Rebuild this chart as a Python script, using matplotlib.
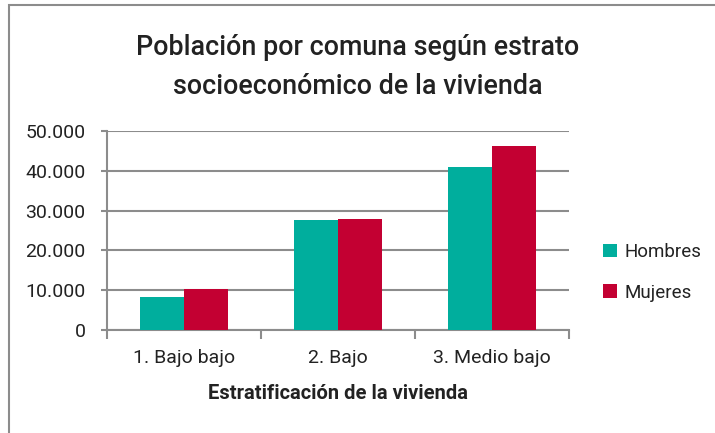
import numpy as np
import matplotlib.pyplot as plt
from matplotlib.patches import Rectangle

# data
categorias = ['1. Bajo bajo', '2. Bajo', '3. Medio bajo']
hombres = [8200, 27700, 40900]
mujeres = [10400, 27900, 46200]
series = ['Hombres', 'Mujeres']
y_ticks = [0, 10000, 20000, 30000, 40000, 50000]

plt.rcParams['font.family'] = ['Roboto', 'DejaVu Sans']
texto = '#222222'
gris = '#8c8c8c'

fig = plt.figure(figsize=(7.15, 4.33), dpi=100)
ax = fig.add_axes([0.1497, 0.2379, 0.6461, 0.4596])

# outer frame (only top and left visible in the reference)
fig.patches.append(Rectangle((9 / 715, -0.1), 1.2, (433 - 5) / 433 + 0.1,
                             transform=fig.transFigure, fill=False,
                             edgecolor=gris, linewidth=1.5))

x = np.arange(len(categorias))
ancho = 0.285
ax.bar(x - ancho / 2, hombres, ancho, color='#00ae9d', label=series[0], zorder=3)
ax.bar(x + ancho / 2, mujeres, ancho, color='#c30032', label=series[1], zorder=3)

ax.set_xlim(-0.5, len(categorias) - 0.5)
ax.set_ylim(0, 50000)
ax.set_yticks(y_ticks)
ax.set_yticklabels([f'{v:,}'.replace(',', '.') for v in y_ticks])
ax.set_xticks(np.arange(len(categorias) + 1) - 0.5, minor=False)
ax.set_xticklabels([])
ax.set_xticks(x, minor=True)
ax.set_xticklabels(categorias, minor=True)

ax.grid(axis='y', color=gris, linewidth=1.5, zorder=0)
for s in ['top', 'right']:
    ax.spines[s].set_visible(False)
for s in ['left', 'bottom']:
    ax.spines[s].set_color(gris)
    ax.spines[s].set_linewidth(1.5)

ax.tick_params(axis='y', length=4.5, width=1.5, color=gris, pad=11,
               labelsize=14, labelcolor=texto)
ax.tick_params(axis='x', which='major', length=6.5, width=1.5, color=gris)
ax.tick_params(axis='x', which='minor', length=0, pad=14,
               labelsize=14, labelcolor=texto)

ax.set_xlabel('Estratificación de la vivienda', fontsize=14.5,
              fontweight='bold', color=texto, labelpad=12)

fig.text(0.5, 0.845, 'Población por comuna según estrato\nsocioeconómico de la vivienda',
         ha='center', va='center', fontsize=19.4, fontweight='medium',
         color=texto, linespacing=1.6)

leg = ax.legend(loc='center left', bbox_to_anchor=(1.037, 0.29), frameon=False,
                fontsize=13.5, handlelength=0.75, handleheight=0.75,
                handletextpad=0.4, labelspacing=1.2, labelcolor=texto)

fig.savefig('out.png', dpi=100)
